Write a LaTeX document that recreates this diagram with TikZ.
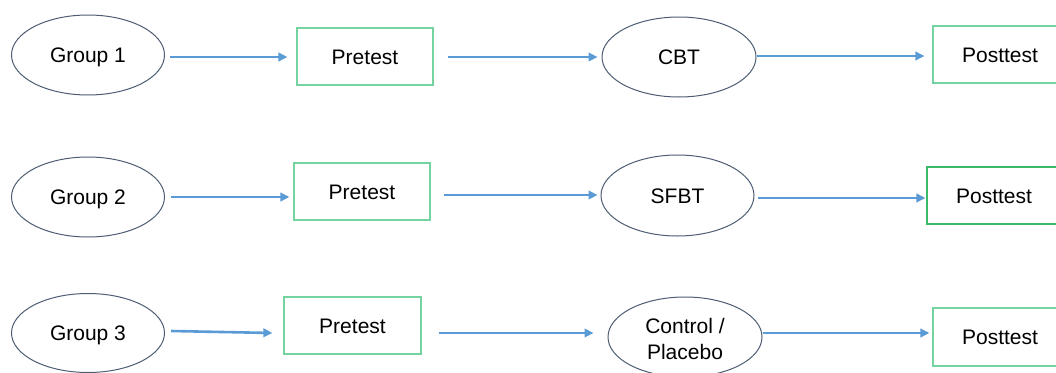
\documentclass[tikz,border=0pt]{standalone}
\usepackage{fontspec}
\setmainfont{Liberation Sans}
\usetikzlibrary{shapes.geometric,arrows.meta,calc}
\definecolor{ovalline}{HTML}{4E5D73}
\definecolor{boxgreen}{HTML}{74D3A0}
\definecolor{boxgreendark}{HTML}{3DBA68}
\definecolor{flowblue}{HTML}{5B9BD5}
\tikzset{
  label text/.style={font=\fontsize{21}{26}\selectfont},
  one line/.style={text height=15.2pt, text depth=0pt},
  oval/.style={ellipse, draw=ovalline, line width=1pt, inner sep=0pt,
    minimum width=153pt, minimum height=80pt, align=center, label text},
  stagebox/.style={rectangle, draw=boxgreen, line width=1.2pt, inner sep=0pt,
    minimum width=136pt, minimum height=57pt, label text, one line},
  flow/.style={draw=flowblue, line width=2.6pt,
    -{Triangle[length=9pt,width=8.5pt]}}
}
\begin{document}
\begin{tikzpicture}[x=1pt,y=1pt]
\useasboundingbox (0,0) rectangle (1056,-372);
\fill[white] (0,0) rectangle (1056,-372);
\clip (0,0) rectangle (1056,-372);

% Row 1
\node[oval, one line] (g1) at (88,-55) {Group 1};
\node[stagebox] (p1) at (365,-56.5) {Pretest};
\node[oval, one line, minimum width=154pt] (t1) at (679,-57) {CBT};
\node[stagebox, minimum width=134pt] (o1) at (1000,-54.5) {Posttest};

\draw[flow] ($(g1.east)+(5,-2)$) -- ($(p1.west)+(-9,-0.5)$);
\draw[flow] ($(p1.east)+(14,-0.5)$) -- ($(t1.west)+(-4,0)$);
\draw[flow] ($(t1.east)+(0,1)$) -- ($(o1.west)+(-8,-1.5)$);

% Row 2
\node[oval, one line] (g2) at (88,-197) {Group 2};
\node[stagebox] (p2) at (362,-191.5) {Pretest};
\node[oval, one line, minimum height=81pt] (t2) at (677.5,-195.5) {SFBT};
\node[stagebox, draw=boxgreendark, minimum width=134pt] (o2) at (994,-195.5) {Posttest};

\draw[flow] ($(g2.east)+(6,0)$) -- ($(p2.west)+(-4,-5.5)$);
\draw[flow] ($(p2.east)+(13,-3.5)$) -- ($(t2.west)+(-3,0.5)$);
\draw[flow] ($(t2.east)+(3,-2.5)$) -- ($(o2.west)+(-1,-2.5)$);

% Row 3
\node[oval, one line, minimum height=79pt] (g3) at (88,-333) {Group 3};
\node[stagebox, minimum width=137pt] (p3) at (352.5,-325.5) {Pretest};
\node[oval, minimum width=154pt] (t3) at (685,-337) {};
\node[label text, align=center] (t3text) at ($(t3.center)+(0,-2)$) {Control /\\Placebo};
\node[stagebox, minimum width=134pt, minimum height=58pt] (o3) at (1000,-337) {Posttest};

\draw[flow] ($(g3.east)+(6,2)$) -- ($(p3.west)+(-11,-7.5)$);
\draw[flow] ($(p3.east)+(17,-7.5)$) -- ($(t3.west)+(-14,4)$);
\draw[flow] ($(t3.east)+(0,4)$) -- ($(o3.west)+(-3,4)$);
\end{tikzpicture}
\end{document}
